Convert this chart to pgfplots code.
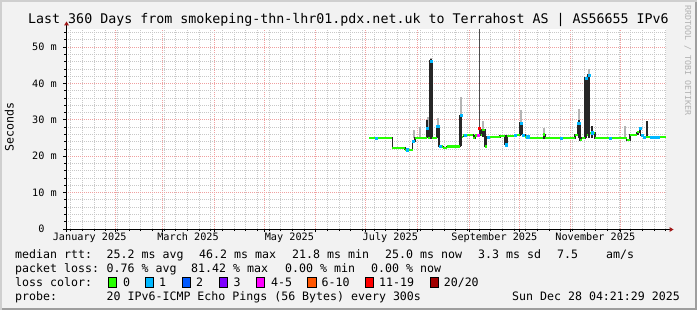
\documentclass[border=0pt]{standalone}
\usepackage{pgfplots}
\pgfplotsset{compat=1.18}
\usepackage{pgfplotstable}
\usepackage{fontspec}
\setmainfont{DejaVu Sans Mono}
\definecolor{bgc}{HTML}{F2F2F2}
\definecolor{shadeA}{HTML}{CFCFCF}
\definecolor{shadeB}{HTML}{9E9E9E}
\definecolor{majgrid}{HTML}{F0A0A0}
\definecolor{mingrid}{HTML}{C8C8C8}
\definecolor{arrowred}{HTML}{A01818}
\definecolor{lc0}{HTML}{26FF00}
\definecolor{lc1}{HTML}{00B8FF}
\definecolor{lc2}{HTML}{0059FF}
\definecolor{lc3}{HTML}{7E00FF}
\definecolor{lc5}{HTML}{FF00FF}
\definecolor{lc10}{HTML}{FF5500}
\definecolor{lc19}{HTML}{FF0000}
\definecolor{lc20}{HTML}{A10000}
\definecolor{smokelt}{HTML}{B4B4B4}
\definecolor{smokedk}{HTML}{262626}
\newcommand\legfont{\fontsize{11.6bp}{13bp}\selectfont}
\newcommand\axfont{\fontsize{10.2bp}{12bp}\selectfont}
\newcommand\titfont{\fontsize{13.3bp}{15bp}\selectfont}
\newcommand\wmfont{\fontsize{8.3bp}{10bp}\selectfont}

% median rtt (ms), step values starting at x (day of 2025, Jan 1 = 0)
\pgfplotstableread{
x y
183.0 25.0
197.0 22.25
204.6 21.8
209.2 24.1
210.6 25.0
217.6 27.7
218.6 25.0
219.6 46.2
220.8 25.0
223.6 28.2
225.0 22.7
227.6 22.25
229.6 22.7
237.6 31.2
238.6 25.4
239.6 25.9
245.6 25.0
246.6 25.7
248.4 25.9
249.2 27.7
249.9 25.9
250.6 27.3
252.6 22.7
253.6 25.3
261.6 25.6
264.6 23.2
265.8 25.6
270.6 25.9
273.6 29.1
275.0 25.9
276.6 25.4
278.6 25.0
287.6 26.0
288.6 25.0
306.6 25.9
308.2 29.1
309.6 24.5
310.6 25.0
312.6 41.5
313.6 25.9
314.4 42.4
315.4 26.5
318.6 25.0
337.6 24.5
339.6 25.8
343.6 26.6
345.2 27.7
346.0 25.9
347.6 25.3
361.18 25.3
}\median

% light smoke ranges
\pgfplotstableread{
x y
210.0 25.0
210.0 27.1
nan nan
213.5 25.0
213.5 28.0
nan nan
218.1 27.7
218.1 30.9
nan nan
220.2 46.2
220.2 47.0
nan nan
224.2 28.2
224.2 30.6
nan nan
238.1 31.2
238.1 36.4
nan nan
251.5 27.3
251.5 29.6
nan nan
274.3 29.1
274.3 32.8
nan nan
288.2 26.0
288.2 27.7
nan nan
308.9 29.1
308.9 33.0
nan nan
314.9 42.4
314.9 44.0
nan nan
336.8 25.0
336.8 28.2
}\smokelight

% dark smoke ranges
\pgfplotstableread{
x y
217.9 25.0
217.9 30.0
nan nan
220.2 25.0
220.2 46.7
nan nan
224.2 25.0
224.2 28.2
nan nan
238.0 22.7
238.0 31.4
nan nan
251.5 25.4
251.5 27.3
nan nan
274.3 25.9
274.3 29.1
nan nan
288.2 25.0
288.2 26.0
nan nan
308.9 25.0
308.9 30.0
nan nan
313.1 25.0
313.1 41.5
nan nan
314.9 25.0
314.9 42.4
nan nan
316.6 25.0
316.6 28.2
nan nan
344.2 25.8
344.2 26.8
nan nan
349.8 25.3
349.8 29.8
}\smokedark

\pgfplotstableread{
x y
249.5 26.0
249.5 56.0
}\smokethin

% loss 1/20 samples
\pgfplotstableread{
x y
187.4 25.0
206.1 21.8
209.7 24.1
218.1 27.7
220.2 46.2
224.2 28.2
225.6 22.7
238.1 31.2
240.6 25.9
254.4 25.3
265.4 23.2
270.6 25.9
274.2 29.1
275.4 25.9
278.2 25.4
298.4 25.0
308.8 29.1
313.1 41.5
314.9 42.4
316.8 26.5
327.6 25.0
345.6 27.7
346.8 25.9
348.0 25.3
352.6 25.3
354.6 25.3
356.6 25.3
}\lossone

\begin{document}
\begin{tikzpicture}[x=1bp,y=1bp]
\useasboundingbox (0,0) rectangle (697,310);
\fill[bgc] (0,0) rectangle (697,310);
\fill[shadeA] (0,0) rectangle (2,310);
\fill[shadeA] (0,308) rectangle (697,310);
\fill[shadeB] (695,0) rectangle (697,308);
\fill[shadeB] (2,0) rectangle (697,2);

\begin{axis}[
  at={(66bp,81bp)}, anchor=south west,
  scale only axis, width=600bp, height=200bp,
  xmin=1.18, xmax=361.18, ymin=0, ymax=55,
  axis line style={draw=none},
  axis background/.style={fill=white},
  xtick={31,59,90,120,151,181,212,243,273,304,334},
  xticklabels={,,,,,,,,,,},
  minor xtick={4,11,...,361},
  extra x ticks={15.4,74.4,135.2,195.8,258.2,318.8},
  extra x tick labels={January 2025,March 2025,May 2025,July 2025,September 2025,November 2025},
  extra x tick style={grid=none, major tick length=0pt},
  ytick={0,10,...,50},
  yticklabels={0\phantom{ m},10 m,20 m,30 m,40 m,50 m},
  minor ytick={2,4,...,54},
  grid=both,
  major grid style={draw=majgrid, line width=1bp, dash pattern=on 1bp off 1bp},
  minor grid style={draw=mingrid, line width=1bp, dash pattern=on 1bp off 1bp},
  tick pos=left,
  tick align=outside,
  major tick length=3bp, minor tick length=2bp,
  tick style={draw=black, line width=1bp},
  xticklabel style={font=\axfont, anchor=base, inner sep=0pt, yshift=-11.5bp},
  yticklabel style={font=\axfont, anchor=east, inner sep=0pt, xshift=-6bp},
]
\addplot[draw=smokelt, line width=2bp, unbounded coords=jump, mark=none] table {\smokelight};
\addplot[draw=smokedk, line width=2bp, unbounded coords=jump, mark=none] table {\smokedark};
\addplot[draw=black!70, line width=1bp, mark=none] table {\smokethin};
\addplot[const plot mark left, draw=black!85, line width=1.4bp, mark=none] table {\median};
\addplot[jump mark left, draw=lc0, line width=2.2bp, mark=none] table {\median};
\addplot[only marks, mark=square*, mark size=1.1bp, mark options={draw=lc1, fill=lc1}] table {\lossone};
\addplot[only marks, mark=square*, mark size=1.1bp, mark options={draw=lc5, fill=lc5}] coordinates {(248.5,25.9)};
\addplot[only marks, mark=square*, mark size=1.1bp, mark options={draw=lc19, fill=lc19}] coordinates {(249.2,27.7)};
\end{axis}

% axis lines with arrows
\draw[line width=1bp, black] (64,80.5) -- (670,80.5);
\fill[arrowred] (669.5,78) -- (673.5,80.5) -- (669.5,83) -- cycle;
\draw[line width=1bp, black] (66.5,78) -- (66.5,285);
\fill[arrowred] (64,284.5) -- (66.5,288.5) -- (69,284.5) -- cycle;

% title and labels
\node[anchor=base, inner sep=0pt, font=\titfont] at (348.5,286.5) {Last 360 Days from smokeping-thn-lhr01.pdx.net.uk to Terrahost AS | AS56655 IPv6};
\node[rotate=90, anchor=base, inner sep=0pt, font=\legfont] at (13.5,183) {Seconds};
\node[rotate=-90, anchor=base west, inner sep=0pt, font=\wmfont, text=black!30] at (685,305) {RRDTOOL / TOBI OETIKER};

% legend
\begin{scope}[every node/.style={anchor=base west, inner sep=0pt, font=\legfont}]
\node at (15,52) {median rtt:};
\node at (106.5,52) {25.2 ms avg};
\node at (199,52) {46.2 ms max};
\node at (292,52) {21.8 ms min};
\node at (385,52) {25.0 ms now};
\node at (478,52) {3.3 ms sd};
\node at (557,52) {7.5};
\node at (606,52) {am/s};
\node at (15,38) {packet loss:};
\node at (106.5,38) {0.76 \% avg};
\node at (191,38) {81.42 \% max};
\node at (285,38) {0.00 \% min};
\node at (371,38) {0.00 \% now};
\node at (15,24) {loss color:};
\node at (122.8,24) {0};
\node at (159,24) {1};
\node at (196,24) {2};
\node at (233.4,24) {3};
\node at (271,24) {4-5};
\node at (321.4,24) {6-10};
\node at (379,24) {11-19};
\node at (443.6,24) {20/20};
\node at (15,10) {probe:};
\node at (106.5,10) {20 IPv6-ICMP Echo Pings (56 Bytes) every 300s};
\node at (512,10) {Sun Dec 28 04:21:29 2025};
\end{scope}
\begin{scope}[line width=0.8bp, draw=black]
\filldraw[fill=lc0] (108,23) rectangle (116.4,33);
\filldraw[fill=lc1] (145.3,23) rectangle (153.7,33);
\filldraw[fill=lc2] (182.2,23) rectangle (190.6,33);
\filldraw[fill=lc3] (219.1,23) rectangle (227.5,33);
\filldraw[fill=lc5] (256.4,23) rectangle (264.8,33);
\filldraw[fill=lc10] (307.6,23) rectangle (316,33);
\filldraw[fill=lc19] (365.3,23) rectangle (373.7,33);
\filldraw[fill=lc20] (430.2,23) rectangle (438.6,33);
\end{scope}
\end{tikzpicture}
\end{document}
